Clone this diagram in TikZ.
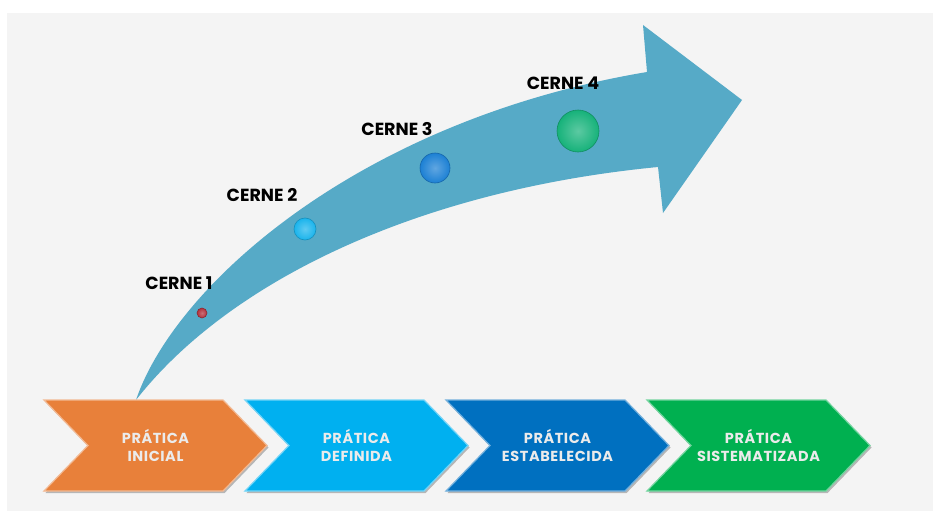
\documentclass[tikz,border=0pt]{standalone}
\usepackage{fontspec}
\setmainfont{Poppins}
\usetikzlibrary{shapes,shapes.symbols,positioning,shadows,calc}
\definecolor{bggray}{HTML}{F4F4F4}
\definecolor{arrowblue}{HTML}{56AAC7}
\definecolor{stageorange}{HTML}{E8803A}
\definecolor{stagecyan}{HTML}{00B0F0}
\definecolor{stageblue}{HTML}{0070C0}
\definecolor{stagegreen}{HTML}{00B050}
\definecolor{dotred}{HTML}{B3303C}
\definecolor{dotcyan}{HTML}{1AB4EC}
\definecolor{dotblue}{HTML}{1C80D4}
\definecolor{dotgreen}{HTML}{16B27A}

\begin{document}
\begin{tikzpicture}[
    x=1pt, y=-1pt,
    stage/.style={signal, signal to=east, signal from=west, signal pointer angle=92,
        minimum width=223pt, minimum height=91pt, inner sep=0pt, align=center,
        text=white!92!black,
        font=\bfseries\fontsize{14.5}{17.5}\selectfont\addfontfeatures{LetterSpace=4},
        draw=#1!55!white, line width=1.2pt, fill=#1,
        drop shadow={shadow xshift=1.5pt, shadow yshift=-2pt, fill=black, opacity=0.25}},
    cerne/.style={font=\bfseries\fontsize{17.5}{20}\selectfont, text=black},
    sphere/.style 2 args={circle, inner sep=0pt, minimum size=#1,
        inner color=#2!70!white, outer color=#2, draw=#2!80!black, line width=0.6pt}
]
    % Background
    \useasboundingbox (0,0) rectangle (933,511);
    \fill[white] (0,0) rectangle (933,511);
    \fill[bggray] (7,13) rectangle (933,511);

    % Curved arrow
    \coordinate (start) at (136,400);
    \fill[arrowblue] (start) .. controls (175,285) and (360,120) .. (647,72)
        -- (643,25) -- (742,100) -- (663,213) -- (658,167)
        .. controls (420,190) and (230,280) .. (start);

    % Stages
    \node[stage=stageorange] (inicial) at (155.5,445.5) {PRÁTICA\\INICIAL};
    \node[stage=stagecyan] (definida) at (356.5,445.5) {PRÁTICA\\DEFINIDA};
    \node[stage=stageblue] (estabelecida) at (557.5,445.5) {PRÁTICA\\ESTABELECIDA};
    \node[stage=stagegreen] (sistematizada) at (758.5,445.5) {PRÁTICA\\SISTEMATIZADA};

    % Spheres on the arrow
    \node[sphere={10pt}{dotred}] (c1) at (202,313) {};
    \node[sphere={22pt}{dotcyan}] (c2) at (305,229) {};
    \node[sphere={30pt}{dotblue}] (c3) at (435,168) {};
    \node[sphere={42pt}{dotgreen}] (c4) at (578,131) {};

    % Labels
    \node[cerne] (l1) at (179,283) {CERNE 1};
    \node[cerne] (l2) at (262,195) {CERNE 2};
    \node[cerne] (l3) at (397,129) {CERNE 3};
    \node[cerne] (l4) at (563,83) {CERNE 4};
\end{tikzpicture}
\end{document}
